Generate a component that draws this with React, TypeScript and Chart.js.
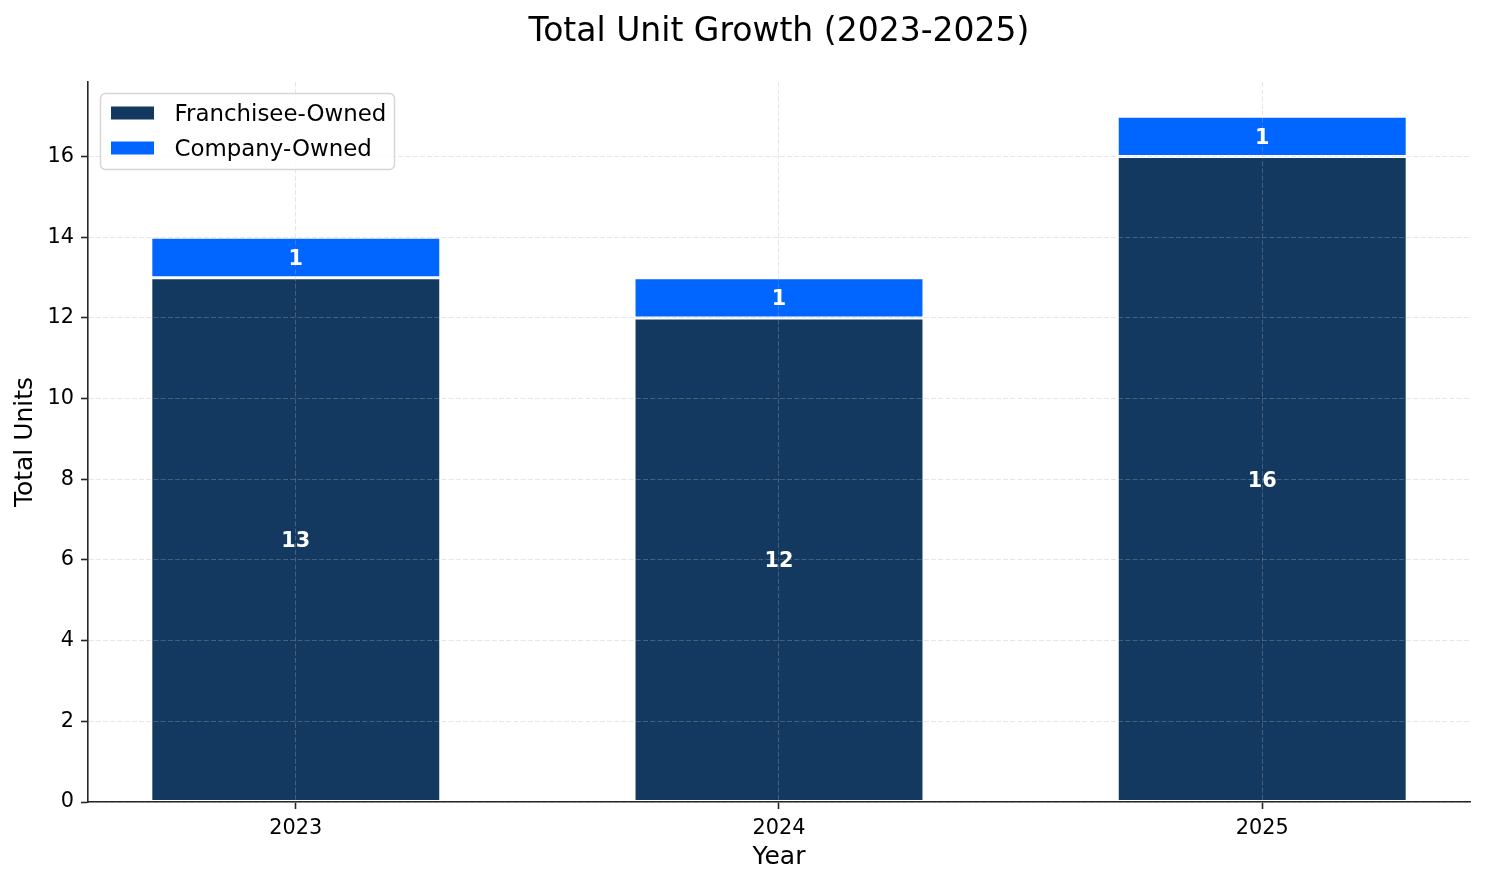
import React, { useEffect, useRef } from 'react';
import { Chart, registerables } from 'chart.js';

Chart.register(...registerables);

const FONT = "'DejaVu Sans', sans-serif";

const chartTitle = 'Total Unit Growth (2023-2025)';
const years = ['2023', '2024', '2025'];
const franchiseeOwned = [13, 12, 16];
const companyOwned = [1, 1, 1];
const seriesLabels = ['Franchisee-Owned', 'Company-Owned'];
const yTicks = [0, 2, 4, 6, 8, 10, 12, 14, 16];

const NAVY = '#143961';
const BLUE = '#0066ff';
const GRID = 'rgba(176,176,176,0.32)';
const AXIS = '#262626';

// title centred over the plot area, like matplotlib does
const titlePlugin = {
    id: 'plotTitle',
    afterDraw(chart: Chart) {
        const { ctx, chartArea } = chart;
        ctx.save();
        ctx.font = `33px ${FONT}`;
        ctx.fillStyle = '#000';
        ctx.textAlign = 'center';
        ctx.textBaseline = 'alphabetic';
        ctx.fillText(chartTitle, (chartArea.left + chartArea.right) / 2, 41);
        ctx.restore();
    },
};

// white labels in the middle of each stacked segment
const segmentLabels = {
    id: 'segmentLabels',
    afterDraw(chart: Chart) {
        const { ctx } = chart;
        ctx.save();
        ctx.font = `bold 20.8px ${FONT}`;
        ctx.fillStyle = '#fff';
        ctx.textAlign = 'center';
        ctx.textBaseline = 'alphabetic';
        chart.data.datasets.forEach((ds, di) => {
            const meta = chart.getDatasetMeta(di);
            meta.data.forEach((el: any, i) => {
                const raw = ds.data[i] as { x: number; y: number };
                const cy = (el.y + el.base) / 2;
                ctx.fillText(String(raw.y), el.x, cy + 7.6);
            });
        });
        ctx.restore();
    },
};

// legend box inside the plot, top-left
const boxLegend = {
    id: 'boxLegend',
    afterDraw(chart: Chart) {
        const { ctx, chartArea } = chart;
        const x0 = chartArea.left + 12.5;
        const y0 = chartArea.top + 11.5;
        ctx.save();
        ctx.beginPath();
        ctx.roundRect(x0, y0, 294, 76, 5);
        ctx.fillStyle = 'rgba(255,255,255,0.8)';
        ctx.fill();
        ctx.lineWidth = 1.5;
        ctx.strokeStyle = 'rgba(204,204,204,0.8)';
        ctx.stroke();
        ctx.font = `22.9px ${FONT}`;
        ctx.textAlign = 'left';
        ctx.textBaseline = 'alphabetic';
        chart.data.datasets.forEach((ds, i) => {
            const rowY = y0 + 19.5 + i * 35;
            ctx.fillStyle = ds.backgroundColor as string;
            ctx.fillRect(x0 + 10.5, rowY - 6.5, 43, 13);
            ctx.fillStyle = '#000';
            ctx.fillText(ds.label as string, x0 + 74, rowY + 8.4);
        });
        ctx.restore();
    },
};

const tickFont = { family: FONT, size: 20.8 };
const labelFont = { family: FONT, size: 25 };

export default function App() {
    const canvasRef = useRef<HTMLCanvasElement>(null);

    useEffect(() => {
        document.body.style.margin = '0';
        if (!canvasRef.current) return;

        const chart = new Chart(canvasRef.current, {
            type: 'bar',
            data: {
                datasets: [
                    {
                        label: seriesLabels[0],
                        data: years.map((_, i) => ({ x: i, y: franchiseeOwned[i] })),
                        backgroundColor: NAVY,
                        borderColor: '#ffffff',
                        borderWidth: 1.5,
                        borderSkipped: false,
                        barPercentage: 0.6,
                        categoryPercentage: 1,
                    },
                    {
                        label: seriesLabels[1],
                        data: years.map((_, i) => ({ x: i, y: companyOwned[i] })),
                        backgroundColor: BLUE,
                        borderColor: '#ffffff',
                        borderWidth: 1.5,
                        borderSkipped: false,
                        barPercentage: 0.6,
                        categoryPercentage: 1,
                    },
                ],
            },
            options: {
                responsive: false,
                animation: false,
                layout: { padding: { top: 82, right: 15, left: 0, bottom: 0 } },
                plugins: {
                    legend: { display: false },
                    title: { display: false },
                    tooltip: { enabled: false },
                },
                scales: {
                    x: {
                        type: 'linear',
                        min: -0.43,
                        max: 2.43,
                        offset: false,
                        stacked: true,
                        afterBuildTicks: (s: any) => {
                            s.ticks = years.map((_, i) => ({ value: i }));
                        },
                        afterFit: (s: any) => {
                            s.height = 82;
                        },
                        ticks: {
                            callback: (v: number | string) => years[Number(v)],
                            font: tickFont,
                            color: '#000',
                            padding: 7,
                            autoSkip: false,
                            maxRotation: 0,
                        },
                        grid: {
                            offset: false,
                            color: GRID,
                            lineWidth: 1,
                            z: 1,
                            tickLength: 7,
                            tickColor: AXIS,
                            tickWidth: 1.6,
                        },
                        border: { color: AXIS, width: 1.6, dash: [5, 2.2], z: 2 },
                        title: {
                            display: true,
                            text: 'Year',
                            font: labelFont,
                            color: '#000',
                            padding: { top: 0, bottom: 12 },
                        },
                    },
                    y: {
                        min: 0,
                        max: 17.85,
                        stacked: true,
                        afterBuildTicks: (s: any) => {
                            s.ticks = yTicks.map(v => ({ value: v }));
                        },
                        afterFit: (s: any) => {
                            s.width = 88;
                        },
                        ticks: {
                            font: tickFont,
                            color: '#000',
                            padding: 7,
                        },
                        grid: {
                            color: GRID,
                            lineWidth: 1,
                            z: 1,
                            tickLength: 7,
                            tickColor: AXIS,
                            tickWidth: 1.6,
                        },
                        border: { color: AXIS, width: 1.6, dash: [5, 2.2], z: 2 },
                        title: {
                            display: true,
                            text: 'Total Units',
                            font: labelFont,
                            color: '#000',
                            padding: { top: 10, bottom: 0 },
                        },
                    },
                },
            },
            plugins: [titlePlugin, segmentLabels, boxLegend],
        });

        return () => chart.destroy();
    }, []);

    return (
        <div style={{ width: 1485, height: 884, background: '#fff' }}>
            <canvas ref={canvasRef} width={1485} height={884} />
        </div>
    );
}
